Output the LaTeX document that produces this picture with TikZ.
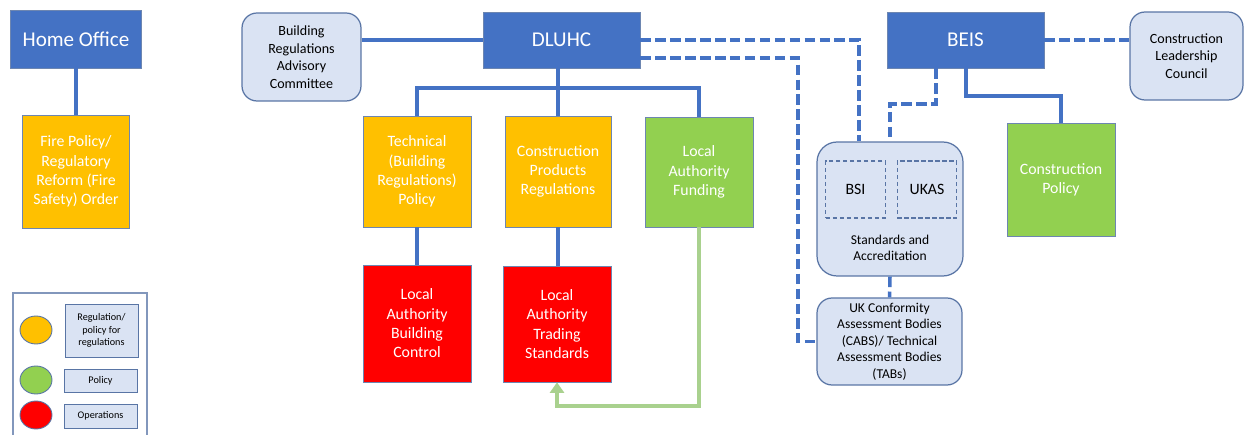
\documentclass[tikz,border=0pt]{standalone}
\usepackage{fontspec}
\setmainfont{Carlito}
\usetikzlibrary{arrows.meta}
\definecolor{Azul}{RGB}{68, 114, 196}
\definecolor{Borde}{RGB}{47, 82, 143}
\definecolor{Claro}{RGB}{218, 227, 243}
\definecolor{Naranja}{RGB}{255, 192, 0}
\definecolor{Verde}{RGB}{146, 208, 80}
\definecolor{Rojo}{RGB}{255, 0, 0}
\definecolor{VerdeClaro}{RGB}{169, 209, 142}

\begin{document}
\begin{tikzpicture}[x=0.02cm, y=-0.02cm,
	caja/.style={draw=Borde!70, line width=0.4pt, align=center, text=white, inner sep=1pt, font=\fontsize{9}{11}\selectfont},
	dept/.style={caja, fill=Azul, font=\fontsize{12}{14}\selectfont},
	grupo/.style={draw=Borde!80, line width=0.7pt, fill=Claro, rounded corners=0.3cm, align=center, inner sep=1pt, font=\fontsize{8}{10}\selectfont},
	interna/.style={draw=Borde!80, line width=0.6pt, dash pattern=on 2.5pt off 1.5pt, minimum width=1.19cm, minimum height=1.14cm, font=\fontsize{9}{11}\selectfont},
	leyenda/.style={draw=Borde!80, line width=0.5pt, fill=Claro, align=center, inner sep=1pt, font=\fontsize{5.8}{7.1}\selectfont},
	linea/.style={draw=Azul, line width=2pt},
	discont/.style={linea, dash pattern=on 6pt off 2.5pt},
	fondos/.style={draw=VerdeClaro, line width=2pt, -{Triangle[width=8pt,length=6pt]}}]
	\useasboundingbox (0,0) rectangle (1244,435);

	%Home Office
	\node[dept, minimum width=2.62cm, minimum height=1.16cm] (home) at (76,39) {Home Office};
	\node[caja, fill=Naranja, minimum width=2.14cm, minimum height=2.26cm] (fire) at (76,171.5) {Fire Policy/\\Regulatory\\Reform (Fire\\Safety) Order};

	%DLUHC y sus cajas
	\node[grupo, minimum width=2.38cm, minimum height=1.76cm] (brac) at (301.5,57) {Building\\Regulations\\Advisory\\Committee};
	\node[dept, minimum width=3.14cm, minimum height=1.12cm] (dluhc) at (561.5,40) {DLUHC};
	\node[caja, fill=Naranja, minimum width=2.16cm, minimum height=2.22cm] (tech) at (417,171.5) {Technical\\(Building\\Regulations)\\Policy};
	\node[caja, fill=Naranja, minimum width=2.12cm, minimum height=2.22cm] (cpr) at (558,171.5) {Construction\\Products\\Regulations};
	\node[caja, fill=Verde, minimum width=2.16cm, minimum height=2.2cm] (laf) at (699,172) {Local\\Authority\\Funding};
	\node[caja, fill=Rojo, minimum width=2.16cm, minimum height=2.34cm] (labc) at (417,323.5) {Local\\Authority\\Building\\Control};
	\node[caja, fill=Rojo, minimum width=2.16cm, minimum height=2.32cm] (lats) at (557,324) {Local\\Authority\\Trading\\Standards};

	%BEIS y sus cajas
	\node[dept, minimum width=3.14cm, minimum height=1.12cm] (beis) at (965.5,40) {BEIS};
	\node[grupo, minimum width=2.26cm, minimum height=1.76cm] (clc) at (1186.5,56) {Construction\\Leadership\\Council};
	\node[caja, fill=Verde, minimum width=2.16cm, minimum height=2.26cm] (cpol) at (1061,179.5) {Construction\\Policy};

	%Normas y acreditacion
	\node[grupo, rounded corners=0.4cm, minimum width=2.92cm, minimum height=2.68cm] (sa) at (890,209) {};
	\node[interna] (bsi) at (855.5,189.5) {BSI};
	\node[interna] (ukas) at (927,189.5) {UKAS};
	\node[align=center, font=\fontsize{7.7}{9.4}\selectfont] (satxt) at (890,248) {Standards and\\Accreditation};
	\node[grupo, font=\fontsize{7.7}{9.4}\selectfont, minimum width=2.9cm, minimum height=1.74cm] (cab) at (889.5,341.5) {UK Conformity\\Assessment Bodies\\(CABS)/ Technical\\Assessment Bodies\\(TABs)};

	%Lineas continuas
	\coordinate (rama) at (558,88);
	\coordinate (giro) at (699,406);
	\coordinate (b2) at (966,96);
	\draw[linea] (home) -- (fire);
	\draw[linea] (brac.east |- dluhc.west) -- (dluhc.west);
	\draw[linea] (dluhc.south -| rama) -- (rama);
	\draw[linea] (tech.north) |- (rama) -| (laf.north);
	\draw[linea] (rama) -- (cpr.north);
	\draw[linea] (tech) -- (labc);
	\draw[linea] (cpr.south) -- (cpr.south |- lats.north);
	\draw[linea] (beis.south -| b2) -- (b2) -| (cpol.north);
	\draw[fondos] (laf.south) -- (giro) -| (lats.south);

	%Lineas discontinuas
	\coordinate (d1) at (859,40);
	\coordinate (d2) at (798,58);
	\coordinate (b1) at (936,104);
	\draw[discont] (dluhc.east) -- (d1) -- (d1 |- sa.north);
	\draw[discont] (dluhc.east |- d2) -- (d2) |- (cab.west);
	\draw[discont] (beis.south -| b1) -- (b1) -| (sa.north);
	\draw[discont] (beis.east) -- (beis.east -| clc.west);
	\draw[discont] (sa.south) -- (cab.north);

	%Leyenda
	\draw[Borde!60, line width=0.6pt] (13,435) -- (13,293) -- (147,293) -- (147,435);
	\draw[Borde!80, line width=0.5pt, fill=Naranja] (36,330) ellipse (0.32cm and 0.28cm);
	\draw[Borde!80, line width=0.5pt, fill=Verde] (36,380) ellipse (0.32cm and 0.28cm);
	\draw[Borde!80, line width=0.5pt, fill=Rojo] (36,415) ellipse (0.32cm and 0.28cm);
	\node[leyenda, minimum width=1.46cm, minimum height=1.06cm] (lreg) at (101.5,330.5) {Regulation/\\policy for\\regulations};
	\node[leyenda, minimum width=1.46cm, minimum height=0.46cm] (lpol) at (100.5,380.5) {Policy};
	\node[leyenda, minimum width=1.46cm, minimum height=0.48cm] (lops) at (100.5,416) {Operations};
\end{tikzpicture}
\end{document}
